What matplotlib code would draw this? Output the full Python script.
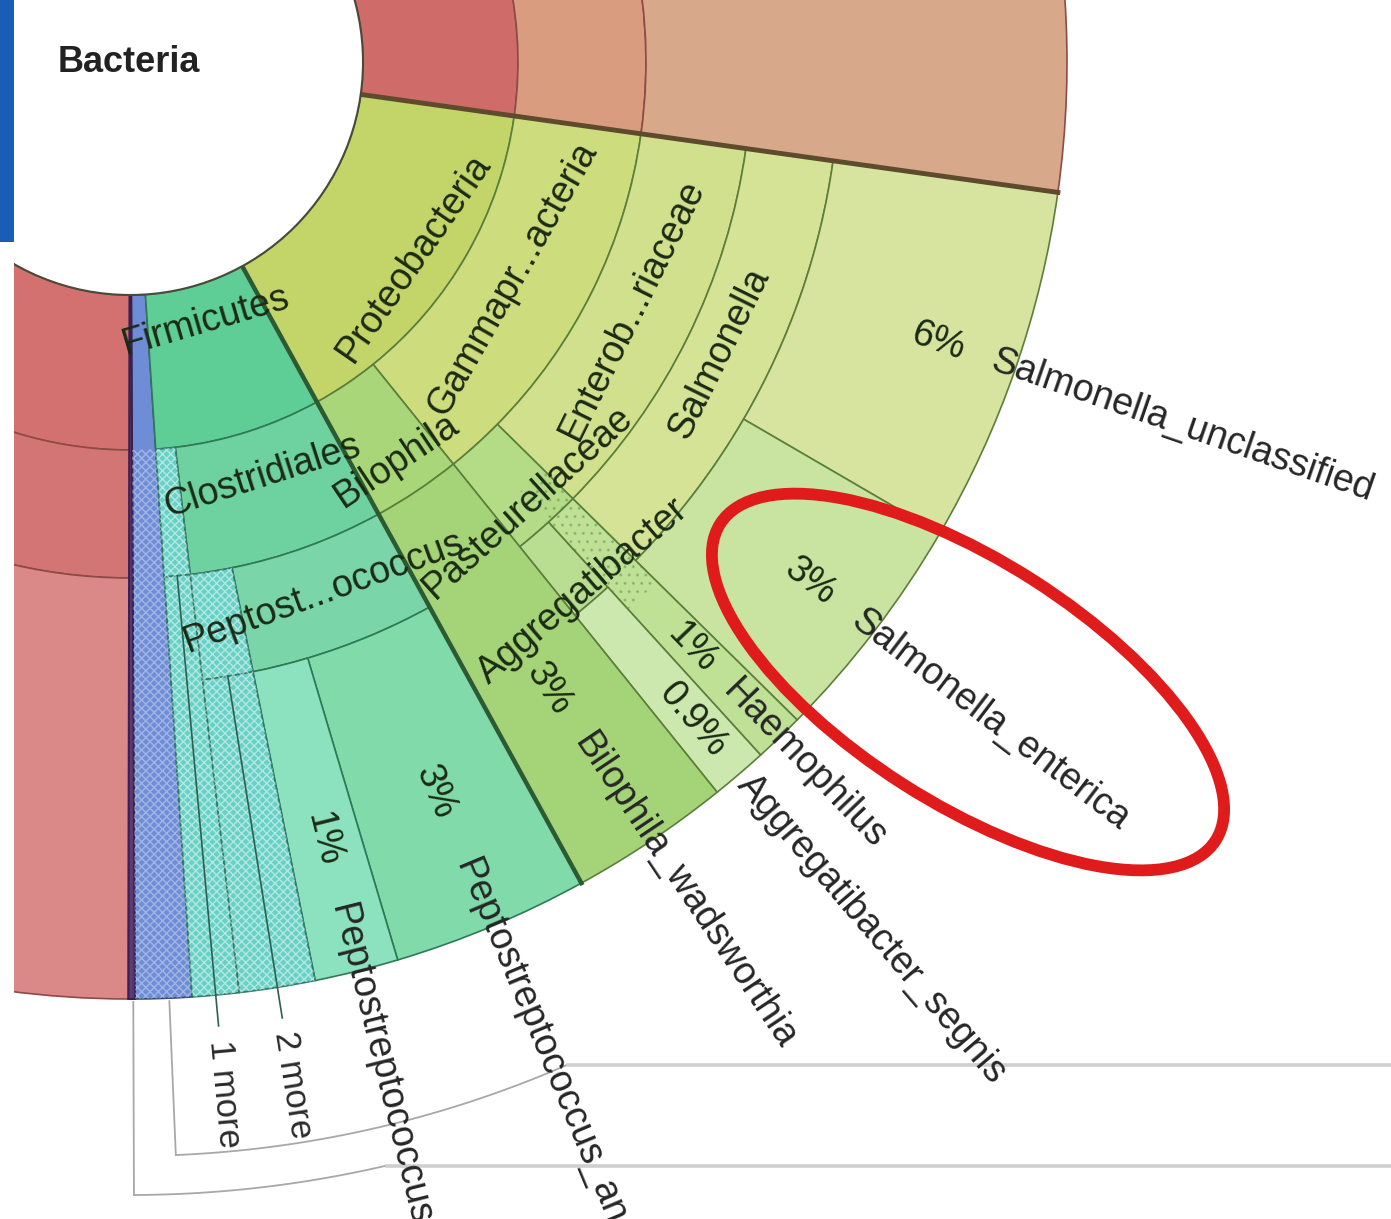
import matplotlib
matplotlib.use('Agg')
import numpy as np
import matplotlib.pyplot as plt
from matplotlib.patches import Wedge, Ellipse, Rectangle, Circle

plt.rcParams['font.family'] = ['Liberation Sans', 'DejaVu Sans']
plt.rcParams['hatch.linewidth'] = 1.0

# hub of the Krona view (screen px) and ring boundaries
CX, CY = 130, 62
RINGS = [233, 388, 516, 622, 710, 937]

# internal nodes (tangential labels): ring index and angular extent in degrees
inner_names = ['Firmicutes', 'Clostridiales', 'Peptost...ococcus',
               'Proteobacteria', 'Gammapr...acteria', 'Bilophila',
               'Enterob...riaceae', 'Pasteurellaceae', 'Salmonella', 'Aggregatibacter']
inner_ring = [0, 1, 2, 0, 1, 1, 2, 2, 3, 3]
inner_start = [61.2, 61.2, 61.2, 8.0, 8.0, 51.2, 8.0, 44.6, 8.0, 47.7]
inner_end = [86.2, 83.3, 78.6, 61.2, 51.2, 61.2, 44.6, 51.2, 44.6, 51.2]

# leaves (run to the outer edge)
leaf_names = ['Salmonella_unclassified', 'Salmonella_enterica', 'Haemophilus',
              'Aggregatibacter_segnis', 'Bilophila_wadsworthia',
              'Peptostreptococcus_anaerobius', 'Peptostreptococcus_unclassified']
leaf_pct = ['6%', '3%', '1%', '0.9%', '3%', '3%', '1%']
leaf_ring = [4, 4, 3, 4, 2, 3, 3]
leaf_start = [8.0, 30.2, 44.6, 47.7, 51.2, 61.2, 73.4]
leaf_end = [30.2, 44.6, 47.7, 51.2, 61.2, 73.4, 78.6]

# collapsed groups (hatched)
other_names = ['1 more', '2 more']
other_ring = [1, 2]
other_start = [83.3, 78.6]
other_end = [86.2, 83.3]

# styling
inner_colors = ['#5fcd96', '#6ed2a0', '#7ad6a8', '#c3d469', '#cddc7d', '#a8d678',
                '#d0e08c', '#b4dc87', '#d4e396', '#b9de91']
leaf_colors = ['#d7e4a0', '#c8e4a0', '#bee196', '#cde8af', '#a5d478', '#80daaa', '#8ce1be']
inner_label_r = [270, 435, 565, 345, 440, 480, 560, 593, 657, 697]
leaf_pct_r = [855, 856, 812, 866, 754, 791, 801]
leaf_name_r = [912, 913, 864, 944, 812, 866, 868]


def pol(r, a):
    t = np.radians(a)
    return CX + r * np.cos(t), CY + r * np.sin(t)


def wedge(ax, r0, r1, a0, a1, fc, ec, lw=1.2, z=2):
    ax.add_patch(Wedge((CX, CY), r1, a0, a1, width=r1 - r0, facecolor=fc,
                       edgecolor=ec, lw=lw, zorder=z))


def hatch(ax, r0, r1, a0, a1, pattern='xxxx', col=(1, 1, 1, 0.5)):
    ax.add_patch(Wedge((CX, CY), r1, a0, a1, width=r1 - r0, facecolor='none',
                       edgecolor=col, lw=0, hatch=pattern, zorder=3))


fig = plt.figure(figsize=(13.91, 12.19), dpi=100)
ax = fig.add_axes([0, 0, 1, 1])
ax.set_xlim(0, 1391)
ax.set_ylim(1219, 0)
ax.axis('off')

# neighbouring branches (red/orange at top, red at left, blue + purple strips)
red_edge = '#8e4a46'
wedge(ax, RINGS[0], RINGS[1], -40, 8.0, '#cf6b68', red_edge)
wedge(ax, RINGS[1], RINGS[2], -40, 8.0, '#d99c7f', red_edge)
wedge(ax, RINGS[2], RINGS[5], -40, 8.0, '#d8a88a', red_edge)
wedge(ax, RINGS[0], RINGS[1], 90.1, 150, '#d27170', red_edge)
wedge(ax, RINGS[1], RINGS[2], 90.1, 150, '#d47575', red_edge)
wedge(ax, RINGS[2], RINGS[5], 90.1, 150, '#da8888', red_edge)
wedge(ax, RINGS[0], RINGS[5], 86.2, 89.7, '#6f8dd6', '#33457a')
hatch(ax, RINGS[1], RINGS[5], 86.2, 89.7, col=(1, 1, 1, 0.35))
wedge(ax, RINGS[0], RINGS[5], 89.7, 90.1, '#5b3b73', '#3a2050', lw=1.5)

# internal nodes
for i in range(len(inner_names)):
    ec = '#2f7a55' if inner_start[i] > 61 else '#5b7f3a'
    wedge(ax, RINGS[inner_ring[i]], RINGS[inner_ring[i] + 1], inner_start[i], inner_end[i],
          inner_colors[i], ec)

# leaves
for i in range(len(leaf_names)):
    ec = '#2f7a55' if leaf_start[i] > 61 else '#5b7f3a'
    wedge(ax, RINGS[leaf_ring[i]], RINGS[5], leaf_start[i], leaf_end[i], leaf_colors[i], ec)
hatch(ax, 580, 740, leaf_start[2], leaf_end[2], pattern='..', col=(0.35, 0.5, 0.3, 0.35))

# collapsed groups
for i in range(len(other_names)):
    r0 = RINGS[other_ring[i]]
    wedge(ax, r0, RINGS[other_ring[i] + 1], other_start[i], other_end[i], '#66d1c4', '#2f7a6a')
    wedge(ax, RINGS[other_ring[i] + 1], RINGS[5], other_start[i], other_end[i], '#66d1c4', '#2f7a6a')
    hatch(ax, r0, RINGS[5], other_start[i], other_end[i])
    mid = (other_start[i] + other_end[i]) / 2
    ax.plot(*zip(pol(RINGS[other_ring[i] + 1], mid), pol(968, mid)), color='#2f5f50', lw=1.2, zorder=4)
    ax.text(*pol(982, mid), other_names[i], rotation=-mid, rotation_mode='anchor',
            ha='left', va='center', fontsize=25, color='#2b2b2b', zorder=6)

# heavy branch boundaries
ax.plot(*zip(pol(RINGS[0], 8.0), pol(RINGS[5], 8.0)), color='#5e4a2c', lw=3.5, zorder=4)
ax.plot(*zip(pol(RINGS[0], 61.2), pol(RINGS[5], 61.2)), color='#2c5a32', lw=3.2, zorder=4)

# hub
ax.add_patch(Circle((CX, CY), RINGS[0], facecolor='white', edgecolor='#4a4a3a', lw=1.5, zorder=5))
ax.text(58, 62, 'Bacteria', fontsize=26, fontweight='bold', color='#222222',
        ha='left', va='center', zorder=6)

txt = '#1b2a14'
for i in range(len(inner_names)):
    mid = (inner_start[i] + inner_end[i]) / 2
    ax.text(*pol(inner_label_r[i], mid), inner_names[i], rotation=90 - mid,
            rotation_mode='anchor', ha='center', va='center', fontsize=27, color=txt, zorder=6)

for i in range(len(leaf_names)):
    mid = (leaf_start[i] + leaf_end[i]) / 2
    ax.text(*pol(leaf_pct_r[i], mid), leaf_pct[i], rotation=-mid, rotation_mode='anchor',
            ha='center', va='center', fontsize=27, color=txt, zorder=6)
    ax.text(*pol(leaf_name_r[i], mid), leaf_names[i], rotation=-mid, rotation_mode='anchor',
            ha='left', va='center', fontsize=27, color='#262626', zorder=6)

# brackets and guide lines below the chart
for ang0, ang1, rb in [(87.6, 66.4, 1094), (89.8, 76.9, 1133)]:
    a = np.linspace(ang0, ang1, 40)
    xs, ys = pol(rb, a)
    ax.plot(*zip(pol(940, ang0), pol(rb, ang0)), color='#a8a8a8', lw=1.3, zorder=1)
    ax.plot(xs, ys, color='#a8a8a8', lw=1.3, zorder=1)
    ax.plot([xs[-1], 1391], [ys[-1], ys[-1]], color='#cfcfcf', lw=2.6, zorder=1)

# highlight ring
ax.add_patch(Ellipse((968, 682), 588, 242, angle=32.6, fill=False,
                     edgecolor='#e01b1b', lw=8.5, zorder=8))

# screenshot edge
ax.add_patch(Rectangle((0, 242), 14, 1000, facecolor='white', edgecolor='none', zorder=9))
ax.add_patch(Rectangle((0, 0), 14, 242, facecolor='#1a5db5', edgecolor='none', zorder=9))

fig.savefig('out.png', dpi=100)
